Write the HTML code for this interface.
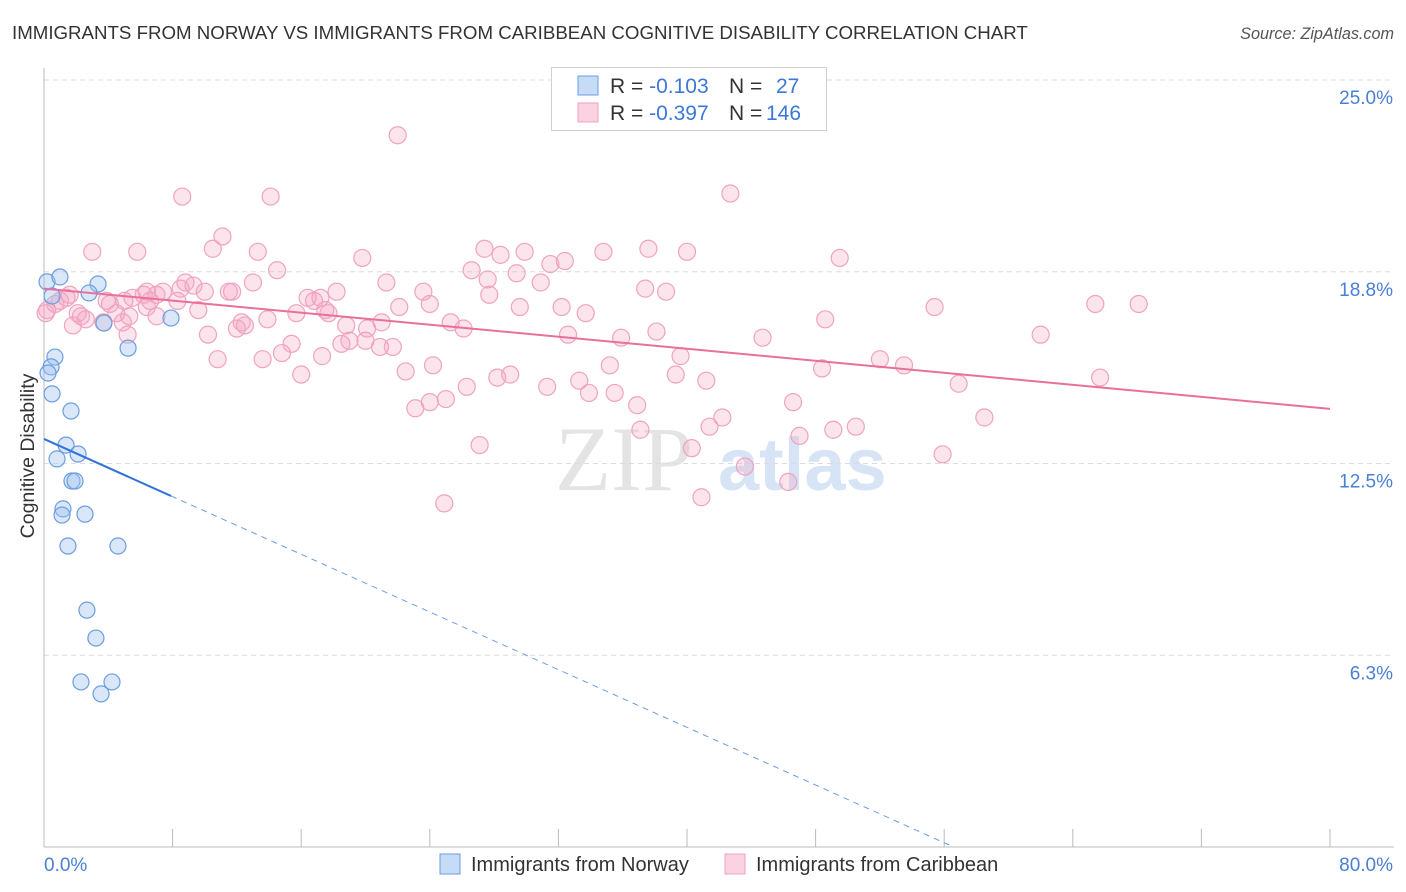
<!DOCTYPE html>
<html><head><meta charset="utf-8"><style>
body{margin:0;background:#fff;font-family:"Liberation Sans",sans-serif;}
#wrap{position:relative;width:1406px;height:892px;overflow:hidden;}
.t{position:absolute;white-space:nowrap;}
</style></head><body>
<div id="wrap">
<div class="t" style="left:12px;top:22px;font-size:18.7px;color:#333;">IMMIGRANTS FROM NORWAY VS IMMIGRANTS FROM CARIBBEAN COGNITIVE DISABILITY CORRELATION CHART</div>
<div class="t" style="right:12px;top:25px;font-size:16.2px;color:#555;font-style:italic;">Source: ZipAtlas.com</div>
<svg id="svg" width="1406" height="892" style="position:absolute;left:0;top:0"></svg>
</div>
<script>
const xTicksPct=[0,8,16,24,32,40,48,56,64,72,80];
const yTickVals=[25,18.75,12.5,6.25];
const yTickLabels=["25.0%","18.8%","12.5%","6.3%"];
const xEndLabels=["0.0%","80.0%"];
const norwayX=[0.19,0.99,3.36,2.80,0.50,7.90,3.73,5.23,0.68,0.44,0.25,0.50,1.68,1.37,2.12,0.81,1.74,1.93,1.18,1.12,2.55,1.49,4.60,2.67,3.23,2.30,4.23,3.55];
const norwayY=[18.42,18.58,18.35,18.06,17.96,17.24,17.08,16.26,15.97,15.65,15.45,14.77,14.21,13.10,12.81,12.65,11.93,11.93,11.02,10.82,10.85,9.81,9.81,7.72,6.81,5.38,5.38,4.99];
const caribX=[22.0,42.7,8.6,14.1,11.1,10.5,3.0,5.8,13.3,27.4,29.9,34.8,37.6,40.0,28.4,19.8,31.5,32.4,49.5,14.5,26.6,29.4,21.3,27.6,30.9,8.8,9.3,13.0,37.4,38.7,6.4,7.4,8.5,10.0,11.5,11.7,18.2,23.6,27.7,16.4,16.8,17.2,5.5,3.9,4.1,6.2,7.0,5.0,8.3,1.6,1.0,0.7,1.4,0.2,65.4,68.1,55.4,24.0,29.6,32.2,22.1,6.4,9.6,15.7,17.5,17.7,2.1,2.3,4.5,7.0,13.9,33.7,48.6,1.8,3.7,4.9,12.3,12.5,12.0,18.8,21.0,25.3,26.1,20.1,10.2,32.6,38.1,44.7,62.0,35.9,5.2,19.0,20.9,20.0,21.7,15.4,14.8,17.3,18.5,10.8,13.6,39.6,52.0,53.5,35.2,16.0,22.5,24.2,28.2,29.0,33.3,39.3,41.2,48.4,65.7,26.3,31.3,33.9,56.9,35.5,23.1,24.0,25.0,36.9,46.6,42.2,41.4,58.5,47.0,37.1,49.1,50.5,27.1,40.3,55.9,43.6,46.3,40.9,24.9,5.3,2.6,6.6,0.1];
const caribY=[23.2,21.3,21.2,21.2,19.9,19.5,19.4,19.4,19.4,19.5,19.4,19.4,19.5,19.4,19.3,19.2,19.0,19.1,19.2,18.8,18.8,18.7,18.4,18.5,18.4,18.4,18.3,18.4,18.2,18.1,18.1,18.1,18.2,18.1,18.1,18.1,18.1,18.1,18.0,17.9,17.8,17.9,17.9,17.8,17.7,18.0,18.0,17.8,17.8,18.0,17.8,17.7,17.9,17.5,17.7,17.7,17.6,17.7,17.6,17.6,17.6,17.6,17.5,17.4,17.5,17.4,17.4,17.3,17.4,17.3,17.2,17.4,17.2,17.0,17.1,17.1,17.1,17.0,16.9,17.0,17.1,17.1,16.9,16.9,16.7,16.7,16.8,16.6,16.7,16.6,16.7,16.5,16.3,16.5,16.3,16.4,16.1,16.0,16.4,15.9,15.9,16.0,15.9,15.7,15.7,15.4,15.5,15.7,15.3,15.4,15.2,15.4,15.2,15.6,15.3,15.0,15.0,14.8,15.1,14.8,14.3,14.5,14.6,14.4,14.5,14.0,13.7,14.0,13.4,13.6,13.6,13.7,13.1,13.0,12.8,12.4,11.9,11.4,11.2,17.3,17.2,17.8,17.4];
const norwayTrend=[13.3,-0.235];
const caribTrend=[18.2,-0.049];
const legendR=["-0.103","-0.397"];
const legendN=["27","146"];
const seriesNames=["Immigrants from Norway","Immigrants from Caribbean"];

const NS="http://www.w3.org/2000/svg";
const svg=document.getElementById('svg');
const X0=44,X1=1330,Ytop=80,Ybot=847;
const sx=v=>X0+v/80*(X1-X0);
const sy=v=>Ybot-v/25*(Ybot-Ytop);
function mk(tag,attrs,parent){const e=document.createElementNS(NS,tag);for(const k in attrs)e.setAttribute(k,attrs[k]);(parent||svg).appendChild(e);return e;}

let wm=mk('text',{x:555,y:490,'font-size':92,'font-family':'Liberation Serif',fill:'#e4e4e4'});wm.textContent='ZIP';


let wm2=mk('text',{x:718,y:490,'font-size':74,'font-family':'Liberation Sans',fill:'#d6e4f5','font-weight':'bold'});wm2.textContent='atlas';



yTickVals.forEach((v,i)=>{
  const g=mk('line',{x1:X0,x2:1394,y1:sy(v),y2:sy(v),stroke:'#dcdcdc','stroke-dasharray':'5,4','stroke-width':1});
  
  
  const t=mk('text',{x:1393,y:sy(v)+24,'text-anchor':'end','font-size':19,fill:'#4a7fd6'});
  t.textContent=yTickLabels[i];
  
  
});
let ax=mk('line',{x1:X0,x2:X0,y1:68,y2:Ybot,stroke:'#bbb'});


let bx=mk('line',{x1:X0,x2:1394,y1:Ybot,y2:Ybot,stroke:'#bbb'});


xTicksPct.forEach(v=>{
  const l=mk('line',{x1:sx(v),x2:sx(v),y1:Ybot,y2:Ybot-18,stroke:'#bbb'});
  
  
});
[[X0,'start',xEndLabels[0]],[1393,'end',xEndLabels[1]]].forEach(([x,a,s])=>{
  const t=mk('text',{x:x,y:871,'text-anchor':a,'font-size':19,fill:'#4a7fd6'});t.textContent=s;
  
  
});
let yt=mk('text',{x:0,y:0,'font-size':19.5,fill:'#333','text-anchor':'middle',transform:'translate(34,456) rotate(-90)'});
yt.textContent='Cognitive Disability';



caribX.forEach((x,i)=>{
  const c=mk('circle',{cx:sx(x),cy:sy(caribY[i]),r:8.5,fill:'rgba(245,165,195,0.3)',stroke:'#f0a3bf','stroke-width':1.2});
  
  
});
norwayX.forEach((x,i)=>{
  const c=mk('circle',{cx:sx(x),cy:sy(norwayY[i]),r:8,fill:'rgba(160,195,240,0.4)',stroke:'#6b9de0','stroke-width':1.2});
  
  
});
const [ca,cb]=caribTrend;
let cl=mk('line',{x1:sx(0),y1:sy(ca),x2:sx(80),y2:sy(ca+cb*80),stroke:'#e9709a','stroke-width':2});


const [na,nb]=norwayTrend;
const nMax=Math.max(...norwayX);
let nl=mk('line',{x1:sx(0),y1:sy(na),x2:sx(nMax),y2:sy(na+nb*nMax),stroke:'#2f72d8','stroke-width':2});


const xz=Math.min(80,-na/nb);
let nd=mk('line',{x1:sx(nMax),y1:sy(na+nb*nMax),x2:sx(xz),y2:sy(na+nb*xz),stroke:'#6b9de0','stroke-width':1,'stroke-dasharray':'6,5'});



let lb=mk('rect',{x:551.5,y:67.5,width:275,height:63,fill:'#fff',stroke:'#d0d0d0'});


[[0,'rgba(160,195,240,0.6)','#6b9de0'],[1,'rgba(245,165,195,0.5)','#f0a3bf']].forEach(([i,f,s])=>{
  const y=76+i*27;
  const r=mk('rect',{x:578,y:y,width:20,height:19,fill:f,stroke:s});
  
  
  const t=mk('text',{x:610,y:y+17,'font-size':21,fill:'#333'});
  t.innerHTML='R = <tspan fill="#3b78d8">'+legendR[i]+'</tspan>';
  
  
  const t2=mk('text',{x:729,y:y+17,'font-size':21,fill:'#333'});
  t2.innerHTML='N = <tspan fill="#3b78d8" x="'+(i?766:776)+'">'+legendN[i]+'</tspan>';
  
  
});
[[440,'rgba(160,195,240,0.6)','#6b9de0',0],[725,'rgba(245,165,195,0.5)','#f0a3bf',1]].forEach(([x,f,s,i])=>{
  const r=mk('rect',{x:x,y:854,width:20,height:20,fill:f,stroke:s});
  
  
  const t=mk('text',{x:x+31,y:871,'font-size':20,fill:'#333'});
  t.textContent=seriesNames[i];
  
  
});
</script>
</body></html>
